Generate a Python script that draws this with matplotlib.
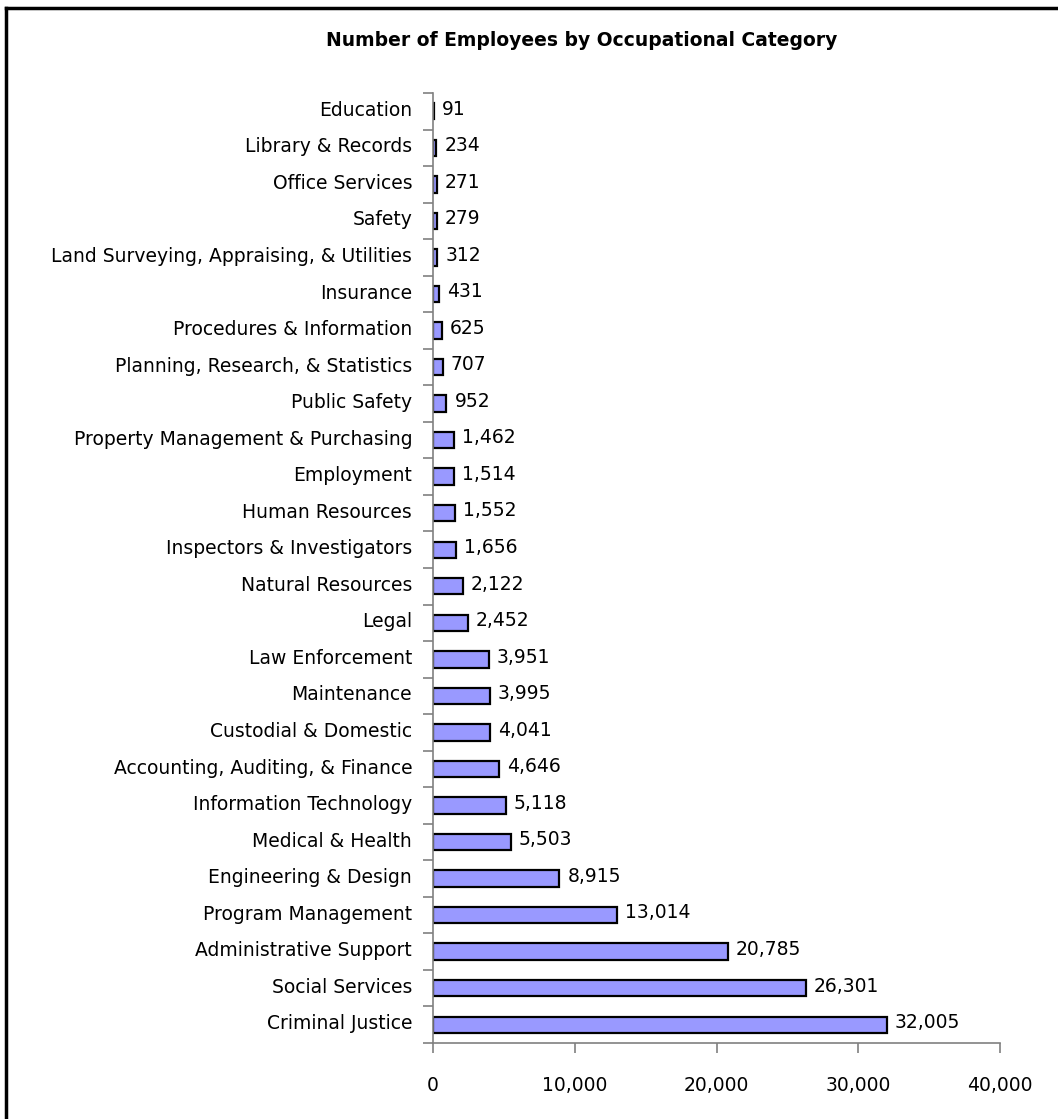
import matplotlib
matplotlib.use("Agg")
import matplotlib.pyplot as plt
from matplotlib.lines import Line2D

categories = [
    "Criminal Justice", "Social Services", "Administrative Support", "Program Management",
    "Engineering & Design", "Medical & Health", "Information Technology",
    "Accounting, Auditing, & Finance", "Custodial & Domestic", "Maintenance",
    "Law Enforcement", "Legal", "Natural Resources", "Inspectors & Investigators",
    "Human Resources", "Employment", "Property Management & Purchasing", "Public Safety",
    "Planning, Research, & Statistics", "Procedures & Information", "Insurance",
    "Land Surveying, Appraising, & Utilities", "Safety", "Office Services",
    "Library & Records", "Education",
]
employees = [32005, 26301, 20785, 13014, 8915, 5503, 5118, 4646, 4041, 3995, 3951,
             2452, 2122, 1656, 1552, 1514, 1462, 952, 707, 625, 431, 312, 279, 271, 234, 91]
x_ticks = [0, 10000, 20000, 30000, 40000]
title = "Number of Employees by Occupational Category"

W, H = 1058, 1119
fig = plt.figure(figsize=(W / 100, H / 100), dpi=100)
ax = fig.add_axes([433 / W, 1 - 1043 / H, (1000 - 433) / W, (1043 - 93) / H])

pos = list(range(len(categories)))
ax.barh(pos, employees, height=0.45, color="#9999FF", edgecolor="black", linewidth=1.6)
ax.set_ylim(-0.5, len(categories) - 0.5)
ax.set_xlim(0, 40000)

fs = 13.5
for p, v in zip(pos, employees):
    ax.text(v + 560, p + 0.06, f"{v:,}", va="center", ha="left", fontsize=fs)

ax.set_yticks([p + 0.08 for p in pos])
ax.set_yticklabels(categories, fontsize=fs)
ax.tick_params(axis="y", length=0, pad=15)
ax.set_yticks([p - 0.5 for p in pos] + [len(categories) - 0.5], minor=True)
ax.tick_params(axis="y", which="minor", length=7, color="#808080", width=1.2, direction="out")

ax.set_xticks(x_ticks)
ax.set_xticklabels([f"{t:,}" for t in x_ticks], fontsize=fs)
ax.tick_params(axis="x", length=7, color="#808080", width=1.2, direction="out", pad=17)

for s in ["top", "right"]:
    ax.spines[s].set_visible(False)
for s in ["left", "bottom"]:
    ax.spines[s].set_color("#808080")
    ax.spines[s].set_linewidth(1.2)

fig.text(582 / W, 1 - 41 / H, title, ha="center", va="center", fontsize=13.5, fontweight="bold")

fig.add_artist(Line2D([6 / W, 6 / W], [0, 1 - 8 / H], transform=fig.transFigure, color="black", linewidth=2.5))
fig.add_artist(Line2D([6 / W, 1], [1 - 8 / H, 1 - 8 / H], transform=fig.transFigure, color="black", linewidth=2.5))

fig.savefig("out.png", dpi=100)
